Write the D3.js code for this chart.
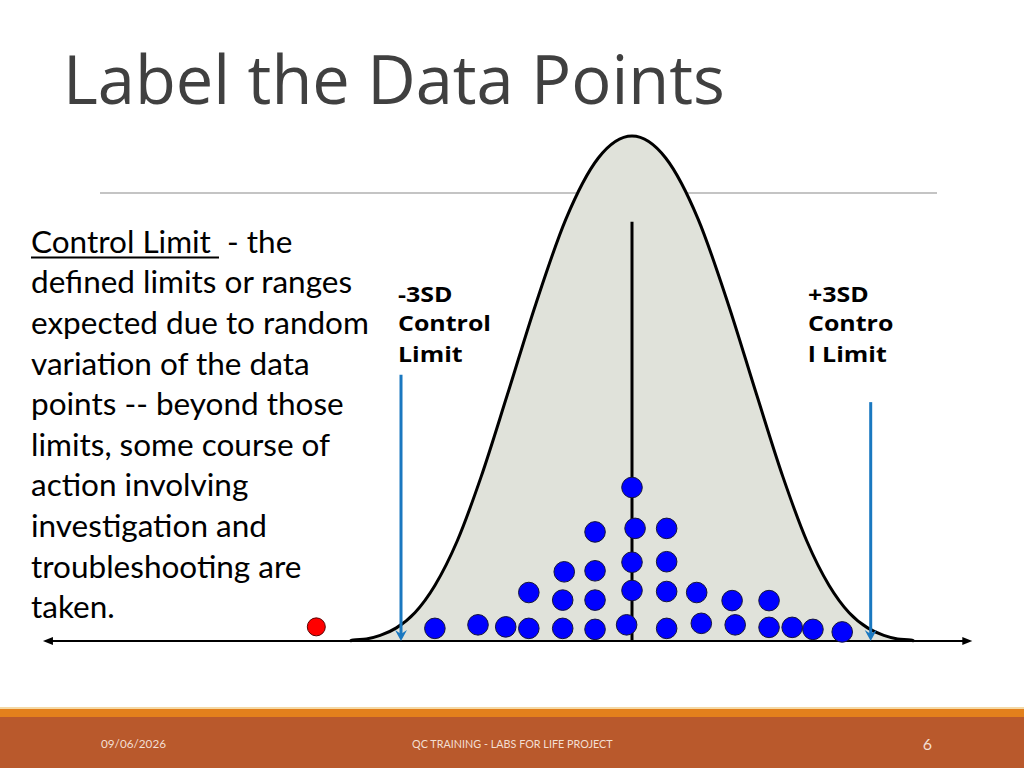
<!DOCTYPE html>
<html>
<head>
<meta charset="utf-8">
<script src="https://cdn.jsdelivr.net/npm/d3@7"></script>
<style>
  html, body { margin: 0; padding: 0; background: #ffffff; }
  svg { display: block; }
</style>
</head>
<body>
<svg id="chart" width="1024" height="768"></svg>
<script>
// ---------------- DATA ----------------
// Bell curve outline: position in SD units from the mean, relative height (peak = 1)
const curveSD = [-3.66, -3.62, -3.45, -3.27, -3.06, -2.82, -2.56, -2.27, -1.96, -1.62, -1.25, -0.86, -0.44, 0.00,
                  0.44, 0.86, 1.25, 1.62, 1.96, 2.27, 2.56, 2.82, 3.06, 3.27, 3.45, 3.62, 3.66];
const curveH  = [0.000, 0.002, 0.004, 0.011, 0.026, 0.056, 0.110, 0.198, 0.325, 0.487, 0.667, 0.835, 0.956, 1.000,
                 0.956, 0.835, 0.667, 0.487, 0.325, 0.198, 0.110, 0.056, 0.026, 0.011, 0.004, 0.002, 0.000];

// Data points (blue) : SD position, height
const dotSD = [-2.56, -2.00, -1.64, -1.34, -1.34, -0.90, -0.90, -0.88, -0.48, -0.48, -0.48, -0.48, -0.07,
                0.00, 0.00, 0.04, 0.00, 0.45, 0.45, 0.45, 0.45, 0.84, 0.90, 1.30, 1.34, 1.78, 1.78, 2.08, 2.35, 2.73];
const dotH  = [0.025, 0.032, 0.028, 0.025, 0.096, 0.025, 0.081, 0.137, 0.023, 0.081, 0.139, 0.216, 0.032,
               0.100, 0.156, 0.223, 0.304, 0.223, 0.157, 0.098, 0.025, 0.096, 0.035, 0.080, 0.032, 0.080, 0.027, 0.027, 0.023, 0.018];

// Outlier point (red)
const outlierSD = [-4.10];
const outlierH  = [0.028];

// Control limit arrows: SD position, height of the arrow tail
const limitSD  = [-3.00, 3.10];
const limitTop = [0.527, 0.473];
const limitLabels = [["-3SD", "Control", "Limit"], ["+3SD", "Contro", "l Limit"]];

// Mean line and axis extent
const meanSD = [0];
const meanTop = [0.830];
const axisExtent = [-7.65, 4.42];

// Texts
const titleText = "Label the Data Points";
const defTerm = "Control Limit ";
const defLines = [" - the", "defined limits or ranges", "expected due to random", "variation of the data",
  "points -- beyond those", "limits, some course of", "action involving", "investigation and",
  "troubleshooting are", "taken."];
const footerDate = "09/06/2026";
const footerCenter = "QC TRAINING - LABS FOR LIFE PROJECT";
const footerPage = "6";

// ---------------- DRAWING ----------------
const svg = d3.select("#chart");
const x = d3.scaleLinear().domain([-4, 4]).range([324, 940]);
const y = d3.scaleLinear().domain([0, 1]).range([641, 136]);

function fitWidth(sel, target) {
  const fs = parseFloat(sel.attr("font-size"));
  const w = sel.node().getComputedTextLength();
  if (w > 0) sel.attr("font-size", fs * target / w);
  return sel;
}

// Title
const title = svg.append("text")
  .attr("x", 63).attr("y", 104)
  .attr("font-family", "'Open Sans', 'Noto Sans', sans-serif")
  .attr("font-size", 62)
  .attr("fill", "#404040")
  .text(titleText);
fitWidth(title, 662);

// Gray rule under the title
svg.append("line")
  .attr("x1", 100).attr("x2", 937).attr("y1", 193).attr("y2", 193)
  .attr("stroke", "#c4c4c4").attr("stroke-width", 2);

// Bell curve
const curvePts = curveSD.map((s, i) => [s, curveH[i]]);
const area = d3.area().x(d => x(d[0])).y0(y(0)).y1(d => y(d[1])).curve(d3.curveMonotoneX);
const line = d3.line().x(d => x(d[0])).y(d => y(d[1])).curve(d3.curveMonotoneX);
svg.append("path").attr("d", area(curvePts)).attr("fill", "#e0e2da");
svg.append("path").attr("d", line(curvePts)).attr("fill", "none")
  .attr("stroke", "#000").attr("stroke-width", 3);

// Mean line
svg.selectAll(".mean").data(meanSD).enter().append("line")
  .attr("x1", d => x(d)).attr("x2", d => x(d))
  .attr("y1", (d, i) => y(meanTop[i])).attr("y2", y(0))
  .attr("stroke", "#000").attr("stroke-width", 3);

// Axis with arrows at both ends
const ax0 = x(axisExtent[0]), ax1 = x(axisExtent[1]), ay = y(0);
svg.append("line").attr("x1", ax0 + 4).attr("x2", ax1 - 4).attr("y1", ay).attr("y2", ay)
  .attr("stroke", "#000").attr("stroke-width", 2);
svg.append("path").attr("d", `M${ax0},${ay} L${ax0 + 10},${ay - 4} L${ax0 + 10},${ay + 4} Z`).attr("fill", "#000");
svg.append("path").attr("d", `M${ax1},${ay} L${ax1 - 10},${ay - 4} L${ax1 - 10},${ay + 4} Z`).attr("fill", "#000");

// Data points
const dots = dotSD.map((s, i) => [s, dotH[i]]);
svg.selectAll(".dot").data(dots).enter().append("circle")
  .attr("class", "dot")
  .attr("cx", d => x(d[0])).attr("cy", d => y(d[1])).attr("r", 10.3)
  .attr("fill", "#0000ff").attr("stroke", "#14143c").attr("stroke-width", 1);

const outs = outlierSD.map((s, i) => [s, outlierH[i]]);
svg.selectAll(".out").data(outs).enter().append("circle")
  .attr("cx", d => x(d[0])).attr("cy", d => y(d[1])).attr("r", 9)
  .attr("fill", "#ff0000").attr("stroke", "#5a0000").attr("stroke-width", 1);

// Control limit arrows
const blue = "#1a78c0";
limitSD.forEach((s, i) => {
  const lx = x(s), top = y(limitTop[i]), bot = y(0);
  svg.append("line").attr("x1", lx).attr("x2", lx).attr("y1", top).attr("y2", bot - 6)
    .attr("stroke", blue).attr("stroke-width", 3);
  svg.append("path").attr("d", `M${lx - 6},${bot - 11} L${lx},${bot - 7} L${lx + 6},${bot - 11} L${lx},${bot} Z`)
    .attr("fill", blue);
});

// Control limit labels (wide bold face: Open Sans Bold stretched horizontally)
const labelX = [398, 808];
const labelBase = [301.7, 331.5, 362];
const labelFont = "'Open Sans', 'Noto Sans', sans-serif";
const lprobe = svg.append("text").attr("font-family", labelFont).attr("font-weight", 700)
  .attr("font-size", 22).text("Control");
const lsx = 93 / lprobe.node().getComputedTextLength();
lprobe.remove();
limitLabels.forEach((lines, i) => {
  const g = svg.append("g").attr("transform", `translate(${labelX[i]},0) scale(${lsx},1)`);
  const t = g.append("text")
    .attr("font-family", labelFont)
    .attr("font-weight", 700).attr("font-size", 22).attr("fill", "#000");
  lines.forEach((l, j) => t.append("tspan").attr("x", 0).attr("y", labelBase[j]).text(l));
});

// Definition text
const bodyFont = "Lato, 'Liberation Sans', sans-serif";
const probe = svg.append("text").attr("font-family", bodyFont).attr("font-size", 29).text(defLines[2]);
fitWidth(probe, 338);
const bodySize = parseFloat(probe.attr("font-size"));
probe.remove();

const body = svg.append("g").attr("font-family", bodyFont).attr("font-size", bodySize).attr("fill", "#000");
const first = body.append("text").attr("x", 31).attr("y", 252.7).style("white-space", "pre");
const term = first.append("tspan").text(defTerm);
first.append("tspan").text(defLines[0]);
const termW = term.node().getComputedTextLength();
body.append("line").attr("x1", 31).attr("x2", 31 + termW).attr("y1", 257.5).attr("y2", 257.5)
  .attr("stroke", "#000").attr("stroke-width", 2);
defLines.slice(1).forEach((l, i) => {
  body.append("text").attr("x", 31).attr("y", 252.7 + (i + 1) * 40.6).text(l);
});

// Footer band
svg.append("rect").attr("x", 0).attr("y", 707).attr("width", 1024).attr("height", 2).attr("fill", "#f4d9a6");
svg.append("rect").attr("x", 0).attr("y", 709).attr("width", 1024).attr("height", 8).attr("fill", "#e3801c");
svg.append("rect").attr("x", 0).attr("y", 717).attr("width", 1024).attr("height", 51).attr("fill", "#b9592c");

const footFont = "Lato, 'Liberation Sans', sans-serif";
const fDate = svg.append("text").attr("x", 101).attr("y", 748).attr("font-family", footFont)
  .attr("font-size", 11).attr("fill", "#f3dfd3").text(footerDate);
fitWidth(fDate, 65);
const fCenter = svg.append("text").attr("x", 412).attr("y", 748).attr("font-family", footFont)
  .attr("font-size", 11).attr("fill", "#f3dfd3").text(footerCenter);
fitWidth(fCenter, 201);
svg.append("text").attr("x", 932).attr("y", 750).attr("text-anchor", "end").attr("font-family", footFont)
  .attr("font-size", 16).attr("fill", "#f3dfd3").text(footerPage);
</script>
</body>
</html>
